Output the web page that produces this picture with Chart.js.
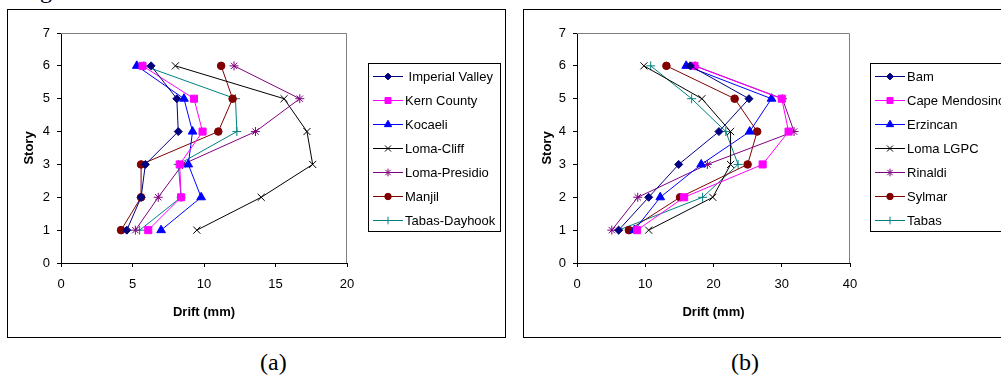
<!DOCTYPE html>
<html>
<head>
<meta charset="utf-8">
<script src="https://cdn.jsdelivr.net/npm/chart.js@4"></script>
<style>
body { margin: 0; width: 1001px; height: 378px; overflow: hidden; background: #fff; position: relative; font-family: "Liberation Sans", Arial, sans-serif; }
.box { position: absolute; top: 9px; height: 327px; border: 1px solid #000; }
#boxA { left: 7px; width: 497px; }
#boxB { left: 523px; width: 520px; }
canvas.chart { position: absolute; top: 0; }
.legend { position: absolute; top: 63px; height: 167px; border: 1px solid #000; background: #fff; }
.legend .row { height: 24px; display: flex; align-items: center; font-size: 13px; color: #000; white-space: pre; }
.legend canvas { margin-left: 4px; margin-right: 2px; }
.cap { position: absolute; top: 348px; font-family: "Liberation Serif", "Times New Roman", serif; font-size: 24px; line-height: 28px; }
.cut { position: absolute; top: -22px; left: 40px; font-family: "Liberation Serif", serif; font-size: 24px; line-height: 24px; }
</style>
</head>
<body>
<div class="cut">g</div>
<div class="box" id="boxA"></div>
<div class="box" id="boxB"></div>
<canvas class="chart" id="chartA" width="360" height="340" style="left:0px"></canvas>
<canvas class="chart" id="chartB" width="347" height="340" style="left:516px"></canvas>
<div class="legend" id="legendA" style="left:368px;width:131px"></div>
<div class="legend" id="legendB" style="left:870px;width:200px"></div>
<div class="cap" style="left:260px">(a)</div>
<div class="cap" style="left:731px">(b)</div>
<script>
// stories (y values), drift in mm per story 1..6
const stories = [1, 2, 3, 4, 5, 6]

// (a)
const namesA = [' Imperial Valley', 'Kern County', 'Kocaeli', 'Loma-Cliff', 'Loma-Presidio', 'Manjil', 'Tabas-Dayhook']
const imperialValley = [4.6, 5.6, 5.9, 8.2, 8.1, 6.3]
const kernCounty = [6.1, 8.4, 8.3, 9.9, 9.3, 5.7]
const kocaeli = [7.0, 9.8, 8.9, 9.2, 8.6, 5.3]
const lomaCliff = [9.5, 14.0, 17.6, 17.2, 15.6, 8.0]
const lomaPresidio = [5.2, 6.8, 8.5, 13.6, 16.7, 12.1]
const manjil = [4.2, 5.6, 5.6, 11.0, 12.0, 11.2]
const tabasDayhook = [5.5, 8.4, 8.2, 12.3, 12.2, 5.8]
const xTicksA = [0, 5, 10, 15, 20]

// (b)
const namesB = ['Bam', 'Cape Mendosino', 'Erzincan', 'Loma LGPC', 'Rinaldi', 'Sylmar', 'Tabas']
const bam = [6.1, 10.5, 14.9, 20.8, 25.2, 16.6]
const capeMendosino = [8.8, 15.7, 27.2, 31.0, 30.0, 17.2]
const erzincan = [8.4, 12.2, 18.2, 25.3, 28.5, 16.0]
const lomaLGPC = [10.5, 19.9, 22.5, 22.5, 18.3, 9.8]
const rinaldi = [5.1, 8.9, 19.1, 31.8, 30.1, 17.3]
const sylmar = [7.6, 15.1, 25.0, 26.4, 23.1, 13.1]
const tabas = [6.1, 18.4, 23.6, 21.8, 16.8, 10.8]
const xTicksB = [0, 10, 20, 30, 40]

const yTicks = [0, 1, 2, 3, 4, 5, 6, 7]

// marker look, same order in both charts
const colors = ['#000080', '#FF00FF', '#0000FF', '#000000', '#800080', '#800000', '#008080']
const markers = ['rectRot', 'rect', 'triangle', 'crossRot', 'star', 'circle', 'cross']
const radii = [4, 5, 5, 5, 4.5, 3.8, 4.5]
const filled = [true, true, true, false, false, true, false]

const plotFrame = {
	id: 'plotFrame',
	beforeDatasetsDraw(chart) {
		const {ctx, chartArea: a} = chart
		ctx.save()
		ctx.strokeStyle = '#808080'
		ctx.lineWidth = 1
		ctx.beginPath()
		ctx.moveTo(a.left, Math.round(a.top) + 0.5)
		ctx.lineTo(Math.round(a.right) - 0.5, Math.round(a.top) + 0.5)
		ctx.lineTo(Math.round(a.right) - 0.5, a.bottom)
		ctx.stroke()
		ctx.restore()
	}
}

const makeDatasets = (names, series) => series.map((vals, i) => ({
	label: names[i],
	data: vals.map((v, k) => ({x: v, y: stories[k]})),
	showLine: true,
	borderColor: colors[i],
	backgroundColor: filled[i] ? colors[i] : 'transparent',
	borderWidth: 1,
	pointStyle: markers[i],
	pointRadius: radii[i],
	pointBorderWidth: 1,
	pointBorderColor: colors[i],
	pointBackgroundColor: filled[i] ? colors[i] : 'transparent',
	tension: 0
}))

const renderChart = (el, names, series, xTicks, titlePad) => {
	const tickFont = {family: '"Liberation Sans", Arial, sans-serif', size: 13}
	const titleFont = {family: '"Liberation Sans", Arial, sans-serif', size: 13, weight: 'bold'}
	new Chart(el, {
		type: 'scatter',
		data: {datasets: makeDatasets(names, series)},
		options: {
			responsive: false,
			animation: false,
			layout: {padding: {left: 0, top: 33, right: 13, bottom: 0}},
			plugins: {legend: {display: false}, tooltip: {enabled: false}},
			scales: {
				x: {
					type: 'linear',
					min: xTicks[0],
					max: xTicks[xTicks.length - 1],
					afterBuildTicks: s => { s.ticks = xTicks.map(v => ({value: v})) },
					afterFit: s => { s.height = 77; s.paddingLeft = 0; s.paddingRight = 0 },
					ticks: {color: '#000', font: tickFont, padding: 10, maxRotation: 0},
					grid: {drawOnChartArea: false, tickLength: 4, color: '#000'},
					border: {color: '#000', width: 1},
					title: {display: true, text: 'Drift (mm)', color: '#000', font: titleFont, padding: {top: 0, bottom: 20}}
				},
				y: {
					type: 'linear',
					min: 0,
					max: 7,
					afterBuildTicks: s => { s.ticks = yTicks.map(v => ({value: v})) },
					afterFit: s => { s.width = 61 },
					ticks: {color: '#000', font: tickFont, padding: 7},
					grid: {drawOnChartArea: false, tickLength: 4, color: '#000'},
					border: {color: '#000', width: 1},
					title: {display: true, text: 'Story', color: '#000', font: titleFont, padding: {top: titlePad, bottom: 0}}
				}
			}
		},
		plugins: [plotFrame]
	})
}

const renderLegend = (el, names) => {
	names.forEach((name, i) => {
		const row = document.createElement('div')
		row.className = 'row'
		const c = document.createElement('canvas')
		c.width = 30
		c.height = 24
		const ctx = c.getContext('2d')
		ctx.strokeStyle = colors[i]
		ctx.lineWidth = 1
		ctx.beginPath()
		ctx.moveTo(0, 12.5)
		ctx.lineTo(30, 12.5)
		ctx.stroke()
		ctx.fillStyle = filled[i] ? colors[i] : 'transparent'
		ctx.strokeStyle = colors[i]
		Chart.helpers.drawPoint(ctx, {pointStyle: markers[i], radius: radii[i] * 0.85, borderWidth: 1, rotation: 0}, 15, 12.5)
		row.appendChild(c)
		row.appendChild(document.createTextNode(name))
		el.appendChild(row)
	})
}

renderChart(document.getElementById('chartA'), namesA,
	[imperialValley, kernCounty, kocaeli, lomaCliff, lomaPresidio, manjil, tabasDayhook], xTicksA, 22)
renderChart(document.getElementById('chartB'), namesB,
	[bam, capeMendosino, erzincan, lomaLGPC, rinaldi, sylmar, tabas], xTicksB, 24)
renderLegend(document.getElementById('legendA'), namesA)
renderLegend(document.getElementById('legendB'), namesB)
</script>
</body>
</html>
